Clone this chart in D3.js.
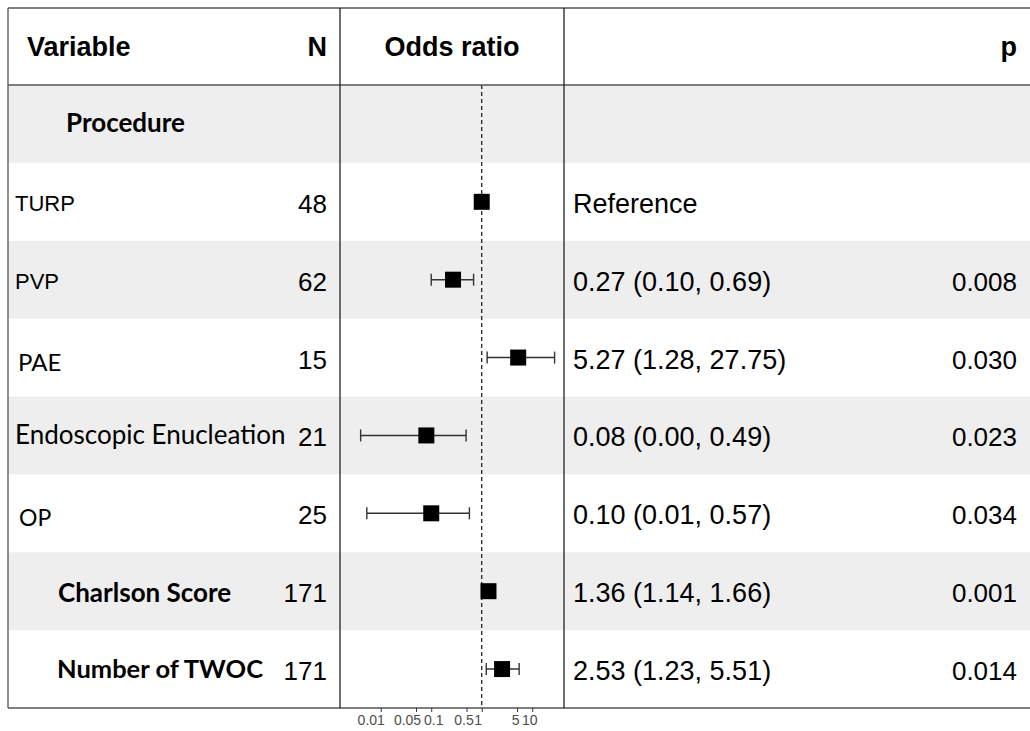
<!DOCTYPE html>
<html>
<head>
<meta charset="utf-8">
<script src="https://cdn.jsdelivr.net/npm/d3@7/dist/d3.min.js"></script>
<style>
  html, body { margin: 0; padding: 0; background: #ffffff; }
  svg { display: block; }
</style>
</head>
<body>
<svg id="chart" width="1030" height="731"></svg>
<script>
// ---------------- data ----------------
const labels = ["Procedure", "TURP", "PVP", "PAE", "Endoscopic Enucleation", "OP", "Charlson Score", "Number of TWOC"];
const nValues = ["", "48", "62", "15", "21", "25", "171", "171"];
const orValues = [null, 1, 0.27, 5.27, 0.08, 0.10, 1.36, 2.53];
const lowerCI = [null, null, 0.10, 1.28, 0.004, 0.0053, 1.14, 1.23];
const upperCI = [null, null, 0.69, 27.75, 0.49, 0.57, 1.66, 5.51];
const estimateText = ["", "Reference", "0.27 (0.10, 0.69)", "5.27 (1.28, 27.75)", "0.08 (0.00, 0.49)", "0.10 (0.01, 0.57)", "1.36 (1.14, 1.66)", "2.53 (1.23, 5.51)"];
const pText = ["", "", "0.008", "0.030", "0.023", "0.034", "0.001", "0.014"];
const tickValues = [0.01, 0.05, 0.1, 0.5, 1, 5, 10];
const tickLabels = ["0.01", "0.05", "0.1", "0.5", "1", "5", "10"];
const headers = ["Variable", "N", "Odds ratio", "p"];

// ---------------- layout / styles ----------------
const frame = { left: 8, right: 1030, top: 8, headerBottom: 85, bottom: 708 };
const colN = 327, colPanelL = 340, colPanelR = 564, colEst = 573, colP = 1017;
const border = "#555555";
const bandFill = "#eeeeee";
const arial = "Arial, 'Liberation Sans', sans-serif";
const labelStyle = {
  "Procedure":              { x: 66, font: "Lato", weight: 700, size: 26, dy: 8 },
  "TURP":                   { x: 15, font: arial, weight: 400, size: 22, dy: 9 },
  "PVP":                    { x: 15, font: arial, weight: 400, size: 22, dy: 9 },
  "PAE":                    { x: 18, font: "Lato", weight: 400, size: 24, dy: 13 },
  "Endoscopic Enucleation": { x: 15, font: "Lato", weight: 400, size: 26, dy: 9 },
  "OP":                     { x: 19, font: "Lato", weight: 400, size: 23, dy: 13 },
  "Charlson Score":         { x: 58, font: "Lato", weight: 700, size: 26, dy: 11 },
  "Number of TWOC":         { x: 57, font: "Lato", weight: 700, size: 25.5, dy: 9 }
};
// horizontal nudges of tick labels as placed in the reference
const tickLabelShift = [-10, -9, 2, -3, -4, -2, -3];

const svg = d3.select("#chart");

const rows = d3.range(labels.length);
const y = d3.scaleBand().domain(rows).range([frame.headerBottom, frame.bottom]).padding(0);
const x = d3.scaleLog().domain([0.00156, 42.6]).range([colPanelL, colPanelR]);

// row bands
svg.append("g").selectAll("rect")
  .data(rows.filter(i => i % 2 === 0))
  .join("rect")
  .attr("x", frame.left)
  .attr("y", i => y(i))
  .attr("width", frame.right - frame.left)
  .attr("height", y.bandwidth())
  .attr("fill", bandFill);

// reference (dashed) line at OR = 1
svg.append("line")
  .attr("x1", x(1)).attr("x2", x(1))
  .attr("y1", frame.headerBottom).attr("y2", frame.bottom)
  .attr("stroke", "#111").attr("stroke-width", 1.2)
  .attr("stroke-dasharray", "4,3");

// frame lines
const g = svg.append("g").attr("stroke", border).attr("stroke-width", 1.3).attr("fill", "none");
g.append("line").attr("x1", frame.left).attr("x2", frame.right).attr("y1", frame.top).attr("y2", frame.top);
g.append("line").attr("x1", frame.left).attr("x2", frame.right).attr("y1", frame.headerBottom).attr("y2", frame.headerBottom);
g.append("line").attr("x1", frame.left).attr("x2", frame.right).attr("y1", frame.bottom).attr("y2", frame.bottom);
g.append("line").attr("x1", frame.left).attr("x2", frame.left).attr("y1", frame.top).attr("y2", frame.bottom);
g.append("line").attr("x1", colPanelL).attr("x2", colPanelL).attr("y1", frame.top).attr("y2", frame.bottom).attr("stroke", "#222");
g.append("line").attr("x1", colPanelR).attr("x2", colPanelR).attr("y1", frame.top).attr("y2", frame.bottom).attr("stroke", "#222");

// headers
const headerY = 56;
const hdr = svg.append("g")
  .attr("font-family", arial)
  .attr("font-weight", 700).attr("font-size", 27).attr("fill", "#000");
hdr.append("text").attr("x", 27).attr("y", headerY).text(headers[0]);
hdr.append("text").attr("x", colN).attr("y", headerY).attr("text-anchor", "end").text(headers[1]);
hdr.append("text").attr("x", (colPanelL + colPanelR) / 2).attr("y", headerY).attr("text-anchor", "middle").text(headers[2]);
hdr.append("text").attr("x", colP).attr("y", headerY).attr("text-anchor", "end").text(headers[3]);

const cy = i => y(i) + y.bandwidth() / 2;

// variable labels
svg.append("g").selectAll("text")
  .data(rows)
  .join("text")
  .attr("x", i => labelStyle[labels[i]].x)
  .attr("y", i => cy(i) + labelStyle[labels[i]].dy)
  .attr("font-family", i => labelStyle[labels[i]].font)
  .attr("font-weight", i => labelStyle[labels[i]].weight)
  .attr("font-size", i => labelStyle[labels[i]].size)
  .attr("fill", "#000")
  .text(i => labels[i]);

// N column
const regular = svg.append("g")
  .attr("font-family", arial)
  .attr("font-size", 26).attr("fill", "#000");
regular.append("g").selectAll("text")
  .data(rows)
  .join("text")
  .attr("x", colN).attr("y", i => cy(i) + 11)
  .attr("text-anchor", "end")
  .text(i => nValues[i]);

// estimate text
regular.append("g").selectAll("text")
  .data(rows)
  .join("text")
  .attr("x", colEst).attr("y", i => cy(i) + 11)
  .attr("font-size", 27)
  .text(i => estimateText[i]);

// p column
regular.append("g").selectAll("text")
  .data(rows)
  .join("text")
  .attr("x", colP).attr("y", i => cy(i) + 11)
  .attr("text-anchor", "end")
  .text(i => pText[i]);

// CI whiskers
const ciRows = rows.filter(i => lowerCI[i] != null && upperCI[i] != null);
const ci = svg.append("g").attr("stroke", "#333").attr("stroke-width", 1.4);
ci.selectAll("line.ci")
  .data(ciRows).join("line").attr("class", "ci")
  .attr("x1", i => x(lowerCI[i])).attr("x2", i => x(upperCI[i]))
  .attr("y1", i => cy(i)).attr("y2", i => cy(i));
ci.selectAll("line.capL")
  .data(ciRows).join("line").attr("class", "capL")
  .attr("x1", i => x(lowerCI[i])).attr("x2", i => x(lowerCI[i]))
  .attr("y1", i => cy(i) - 6).attr("y2", i => cy(i) + 6);
ci.selectAll("line.capR")
  .data(ciRows).join("line").attr("class", "capR")
  .attr("x1", i => x(upperCI[i])).attr("x2", i => x(upperCI[i]))
  .attr("y1", i => cy(i) - 6).attr("y2", i => cy(i) + 6);

// point squares
const sq = 16;
svg.append("g").selectAll("rect")
  .data(rows.filter(i => orValues[i] != null))
  .join("rect")
  .attr("x", i => x(orValues[i]) - sq / 2)
  .attr("y", i => cy(i) - sq / 2)
  .attr("width", sq).attr("height", sq)
  .attr("fill", "#000");

// x axis
const axis = d3.axisBottom(x)
  .tickValues(tickValues)
  .tickFormat((d, i) => tickLabels[i])
  .tickSize(4)
  .tickPadding(3);
const ax = svg.append("g").attr("transform", `translate(0,${frame.bottom})`).call(axis);
ax.select(".domain").remove();
ax.selectAll(".tick line").attr("stroke", "#333");
ax.selectAll(".tick text")
  .attr("dx", (d, i) => tickLabelShift[i])
  .attr("font-family", arial)
  .attr("font-size", 14)
  .attr("fill", "#4d4d4d");
</script>
</body>
</html>
